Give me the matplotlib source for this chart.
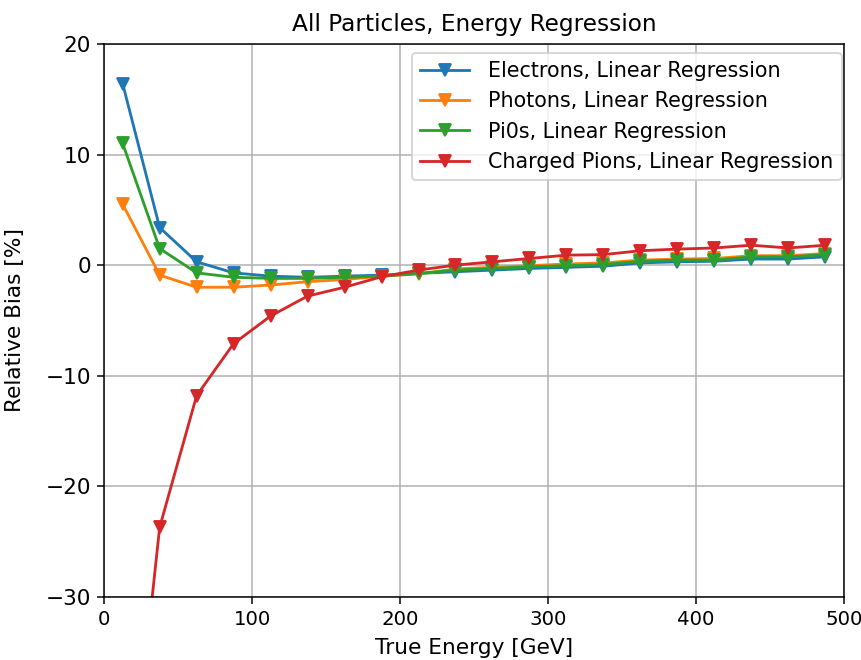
import matplotlib.pyplot as plt

energy = [12.5, 37.5, 62.5, 87.5, 112.5, 137.5, 162.5, 187.5, 212.5, 237.5,
          262.5, 287.5, 312.5, 337.5, 362.5, 387.5, 412.5, 437.5, 462.5, 487.5]

electrons = [16.4, 3.4, 0.3, -0.7, -1.0, -1.1, -1.0, -0.9, -0.75, -0.6,
             -0.45, -0.3, -0.2, -0.1, 0.2, 0.3, 0.35, 0.55, 0.55, 0.75]
photons = [5.5, -0.9, -2.0, -2.0, -1.8, -1.5, -1.3, -1.0, -0.8, -0.35,
           -0.2, -0.05, 0.1, 0.2, 0.45, 0.55, 0.6, 0.85, 0.85, 1.05]
pi0s = [11.0, 1.5, -0.7, -1.1, -1.2, -1.2, -1.1, -1.0, -0.75, -0.45,
        -0.3, -0.15, -0.05, 0.05, 0.35, 0.45, 0.45, 0.75, 0.75, 0.95]
charged_pions = [-55.0, -23.7, -11.8, -7.1, -4.6, -2.8, -2.0, -1.05, -0.45, 0.0,
                 0.3, 0.6, 0.9, 0.95, 1.3, 1.45, 1.55, 1.8, 1.55, 1.8]

plt.rcParams['font.size'] = 11.5
plt.rcParams['xtick.labelsize'] = 10.5
plt.rcParams['ytick.labelsize'] = 11.5

fig = plt.figure(figsize=(861 / 135, 660 / 135), dpi=135)
ax = fig.add_axes([0.121, 0.0955, 0.859, 0.838])

ax.plot(energy, electrons, marker='v', label='Electrons, Linear Regression')
ax.plot(energy, photons, marker='v', label='Photons, Linear Regression')
ax.plot(energy, pi0s, marker='v', label='Pi0s, Linear Regression')
ax.plot(energy, charged_pions, marker='v', label='Charged Pions, Linear Regression')

ax.set_xlim(0, 500)
ax.set_ylim(-30, 20)
ax.grid(True)
ax.set_title('All Particles, Energy Regression', fontsize=12.4, pad=7)
ax.set_xlabel('True Energy [GeV]')
ax.set_ylabel('Relative Bias [%]')
ax.yaxis.set_label_coords(-0.107, 0.5)
ax.xaxis.set_label_coords(0.5, -0.075)
ax.legend(loc='upper right', bbox_to_anchor=(0.997, 0.984), borderaxespad=0,
          fontsize=11, handlelength=2.4, handletextpad=0.9)

fig.savefig('out.png', dpi=135)
